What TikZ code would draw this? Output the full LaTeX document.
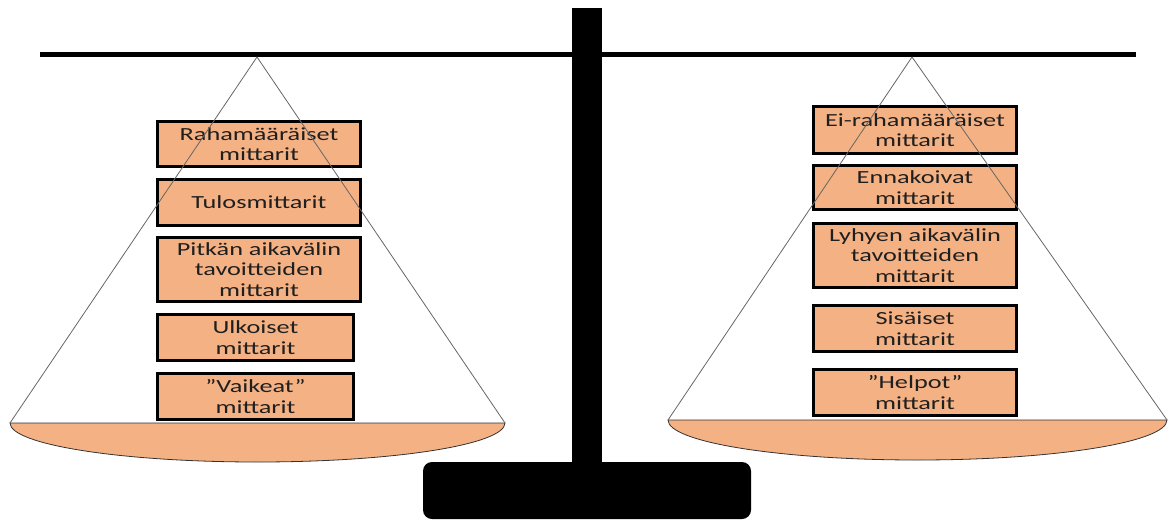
\documentclass[tikz,border=0pt]{standalone}
\usepackage{fontspec}
\newfontfamily\boxfont[FakeStretch=1.42]{Carlito}
\definecolor{panorange}{HTML}{F4B183}
\definecolor{txt}{HTML}{1F1F1F}
\begin{document}
\begin{tikzpicture}[x=1pt,y=-1pt,
  mbox/.style={draw=black, line width=3pt, fill=panorange, inner sep=0pt,
    align=center, text=txt, font=\boxfont\fontsize{18.5}{20.5}\selectfont},
  string/.style={draw=gray!80!black, line width=0.8pt},
  pan/.style={draw=black!80, line width=0.8pt, fill=panorange}]
\useasboundingbox (0,0) rectangle (1170,520);
% beam and pole
\draw[line width=5pt] (40,54.5) -- (1136,54.5);
\fill[black] (572,8) rectangle (602,466);
\fill[black, rounded corners=9pt] (423,462) rectangle (751,519);
% named points
\coordinate (LA) at (257,57);
\coordinate (LL) at (10,423);
\coordinate (LR) at (505,423);
\coordinate (RA) at (912,57);
\coordinate (RL) at (668,420);
\coordinate (RR) at (1167,420);
% pans (half ellipses)
\draw[pan] (LL) .. controls (10,444.5) and (120.8,462) .. (257.5,462)
  .. controls (394.2,462) and (505,444.5) .. (LR) -- cycle;
\draw[pan] (RL) .. controls (668,442.1) and (779.7,460) .. (917.5,460)
  .. controls (1055.3,460) and (1167,442.1) .. (RR) -- cycle;
% left boxes
\node[mbox, minimum width=203pt, minimum height=45pt] (l1) at (259,144) {Rahamääräiset\\mittarit};
\node[mbox, minimum width=203pt, minimum height=46pt] (l2) at (259,202.5) {Tulosmittarit};
\node[mbox, minimum width=203pt, minimum height=64pt] (l3) at (259,269.5) {Pitkän aikavälin\\tavoitteiden\\mittarit};
\node[mbox, minimum width=196pt, minimum height=46pt] (l4) at (255.5,337.5) {Ulkoiset\\mittarit};
\node[mbox, minimum width=196pt, minimum height=46pt] (l5) at (255.5,396.5) {”Vaikeat”\\mittarit};
% right boxes
\node[mbox, minimum width=203pt, minimum height=47pt] (r1) at (915,130) {Ei-rahamääräiset\\mittarit};
\node[mbox, minimum width=203pt, minimum height=44pt] (r2) at (915,187.5) {Ennakoivat\\mittarit};
\node[mbox, minimum width=203pt, minimum height=64pt] (r3) at (915,255.5) {Lyhyen aikavälin\\tavoitteiden\\mittarit};
\node[mbox, minimum width=203pt, minimum height=46pt] (r4) at (915,328.5) {Sisäiset\\mittarit};
\node[mbox, minimum width=203pt, minimum height=46pt] (r5) at (915,392.5) {”Helpot”\\mittarit};
% strings
\draw[string] (LL) -- (LA) -- (LR);
\draw[string] (RL) -- (RA) -- (RR);
\end{tikzpicture}
\end{document}
